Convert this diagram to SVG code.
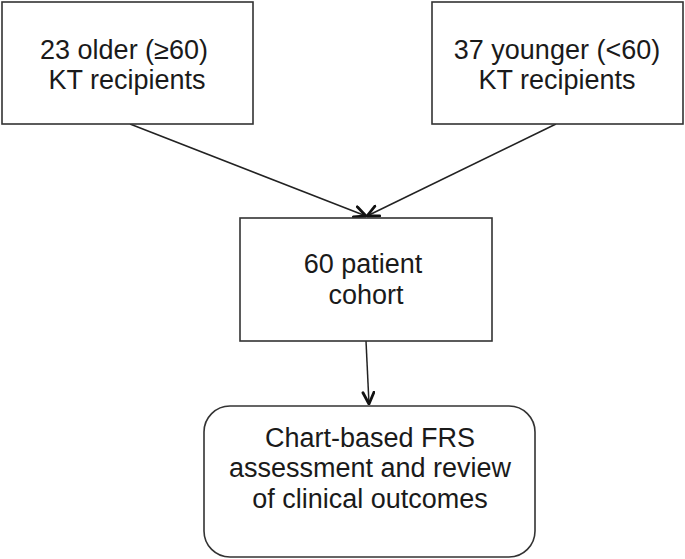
<svg xmlns="http://www.w3.org/2000/svg" width="685" height="559" viewBox="0 0 685 559">
<style>
.box{fill:#fff;stroke:#333;stroke-width:1.6}
.t{font-family:"Liberation Sans",Arial,sans-serif;font-size:27px;fill:#1a1a1a;text-anchor:middle}
.c{fill:none;stroke:#222;stroke-width:1.5}
</style>
<defs>
<marker id="ah" viewBox="0 0 14 14" refX="13" refY="7" markerWidth="14" markerHeight="14" markerUnits="userSpaceOnUse" orient="auto">
<path d="M1.5,1.5 L13,7 L1.5,12.5" fill="none" stroke="#111" stroke-width="2.8" stroke-linecap="round" stroke-linejoin="round"/>
</marker>
</defs>
<rect width="685" height="559" fill="#fff"/>
<g id="connectors">
<line class="c" x1="130" y1="124" x2="366" y2="216" marker-end="url(#ah)"/>
<line class="c" x1="556" y1="124" x2="367" y2="216" marker-end="url(#ah)"/>
<line class="c" x1="366" y1="341" x2="369" y2="404" marker-end="url(#ah)"/>
</g>
<g id="older">
<rect class="box" x="2" y="2" width="251" height="122"/>
<text class="t" x="124" y="58.5">23 older (≥60)</text>
<text class="t" x="127" y="89">KT recipients</text>
</g>
<g id="younger">
<rect class="box" x="432" y="2" width="251" height="122"/>
<text class="t" x="557" y="58.5">37 younger (&lt;60)</text>
<text class="t" x="557" y="89">KT recipients</text>
</g>
<g id="cohort">
<rect class="box" x="240" y="218" width="252" height="123"/>
<text class="t" x="363" y="273">60 patient</text>
<text class="t" x="366" y="304">cohort</text>
</g>
<g id="assessment">
<rect class="box" x="204" y="406" width="331" height="151" rx="26" ry="26"/>
<text class="t" x="370" y="447">Chart-based FRS</text>
<text class="t" x="370" y="477">assessment and review</text>
<text class="t" x="370" y="508">of clinical outcomes</text>
</g>
</svg>
